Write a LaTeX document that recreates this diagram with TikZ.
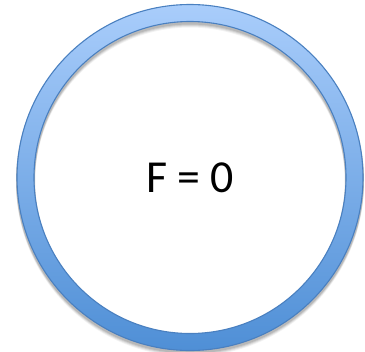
\documentclass[tikz,border=0pt]{standalone}
\usepackage{fontspec}
\setmainfont{Carlito}
\usetikzlibrary{positioning}
\definecolor{ringtop}{HTML}{A9CDFB}
\definecolor{ringbot}{HTML}{4F8FD6}
\definecolor{ringedge}{HTML}{4A80C0}
\begin{document}
\begin{tikzpicture}[x=1bp,y=-1bp,
  ringshade/.style={top color=ringtop,bottom color=ringbot,even odd rule},
  ringline/.style={draw=ringedge,line width=1.1bp},
  label/.style={font=\fontsize{46}{50}\selectfont,inner sep=0pt}]
\useasboundingbox (0,0) rectangle (365,352);
\coordinate (c) at (190,177.5);
% soft shadow
\foreach \d/\o in {5/0.05,4/0.07,3/0.09,2/0.1}
  \fill[black,opacity=\o,even odd rule] ([yshift=-\d bp]c) circle (174) ([yshift=-\d bp]c) circle (155);
\shade[ringshade] (c) circle (173) (c) circle (156);
\draw[ringline] (c) circle (173);
\draw[ringline] (c) circle (156);
\node[label] (f) at (c) {F = 0};
\end{tikzpicture}
\end{document}
